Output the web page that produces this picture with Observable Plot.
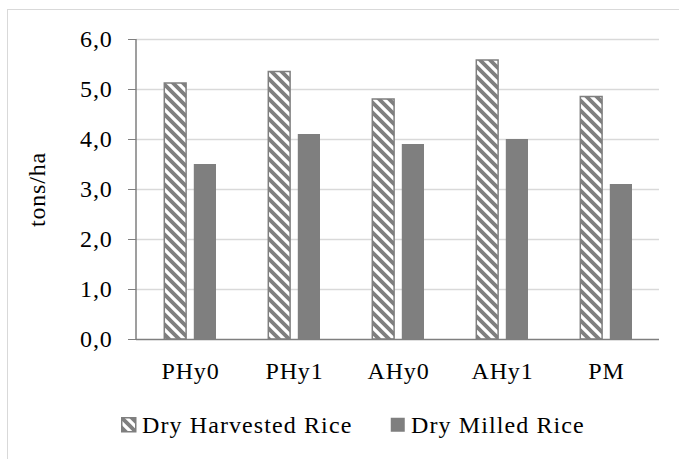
<!DOCTYPE html>
<html><head><meta charset="utf-8">
<script src="https://cdn.jsdelivr.net/npm/d3@7"></script>
<script src="https://cdn.jsdelivr.net/npm/@observablehq/plot@0.6"></script>
<style>
body{margin:0;background:#fff;}
#wrap{position:relative;width:679px;height:459px;overflow:hidden;font-family:"Liberation Serif","Times New Roman",serif;}
#border{position:absolute;left:7px;top:9px;width:800px;height:600px;border:1px solid #d9d9d9;}
#chart{position:absolute;left:0;top:0;}
#chart svg{font-family:"Liberation Serif","Times New Roman",serif;}
#chart svg text{letter-spacing:0.8px;font-family:"Liberation Serif","Times New Roman",serif;}
.legend-item{position:absolute;top:413px;height:24px;display:flex;align-items:center;font-size:24px;line-height:24px;letter-spacing:1.1px;white-space:nowrap;color:#000;}
.legend-item svg{margin-right:5px;}
</style></head><body>
<div id="wrap"><div id="border"></div><div id="chart"></div></div>
<script>
const categories = ["PHy0", "PHy1", "AHy0", "AHy1", "PM"];
const seriesNames = ["Dry Harvested Rice", "Dry Milled Rice"];
const harvested = [5.12, 5.35, 4.80, 5.58, 4.85];
const milled = [3.5, 4.1, 3.9, 4.0, 3.1];
const yTicks = [0, 1, 2, 3, 4, 5, 6];
const yTickLabels = ["0,0", "1,0", "2,0", "3,0", "4,0", "5,0", "6,0"];
const yLabel = "tons/ha";

const data = categories.map((c, i) => ({category: c, harvested: harvested[i], milled: milled[i]}));
const W = 679, H = 400, ML = 136, MR = 20, MT = 39, MB = 61;
const bw = (W - ML - MR) / categories.length;
const gray = "#7f7f7f";
const FS = 24;

const defs = () => {
  const d = d3.create("svg:defs");
  const p = d.append("pattern").attr("id", "hatch").attr("patternUnits", "userSpaceOnUse")
    .attr("width", 10).attr("height", 10);
  p.append("rect").attr("width", 10).attr("height", 10).attr("fill", "#fff");
  p.append("path").attr("d", "M-2,-2L12,12M-2,8L2,12M8,-2L12,2")
    .attr("stroke", gray).attr("stroke-width", 3.8);
  return d.node();
};
const yAxisLine = (index, scales, values, dims) => {
  return d3.create("svg:line")
    .attr("x1", dims.marginLeft).attr("x2", dims.marginLeft)
    .attr("y1", scales.y(yTicks[yTicks.length - 1])).attr("y2", scales.y(0))
    .attr("stroke", gray).attr("stroke-width", 1.5).node();
};

const chart = Plot.plot({
  width: W, height: H, marginLeft: ML, marginRight: MR, marginTop: MT, marginBottom: MB,
  style: {fontSize: FS + "px", background: "none", color: "#000"},
  x: {domain: categories, padding: 0},
  y: {domain: [0, 6]},
  marks: [
    defs,
    Plot.ruleY(yTicks.filter(d => d > 0), {stroke: "#d9d9d9", strokeWidth: 1.3}),
    Plot.barY(data, {x: "category", y: "harvested", fill: "url(#hatch)", stroke: gray, strokeWidth: 1.5,
      insetLeft: bw / 2 - 26, insetRight: bw / 2 + 3.6}),
    Plot.barY(data, {x: "category", y: "milled", fill: gray,
      insetLeft: bw / 2 + 3.5, insetRight: bw / 2 - 26.3}),
    Plot.ruleY([0], {stroke: gray, strokeWidth: 1.5}),
    yAxisLine,
    Plot.axisY({ticks: yTicks, tickSize: 8, tickPadding: 16, fontSize: FS,
      tickFormat: d => yTickLabels[yTicks.indexOf(d)], stroke: gray, fill: "#000", label: null}),
    Plot.axisX({tickSize: 0, tickPadding: 22, fontSize: FS, label: null, fill: "#000"}),
    Plot.text([yLabel], {frameAnchor: "left", textAnchor: "middle", lineAnchor: "middle",
      rotate: -90, dx: -99, fontSize: FS, fill: "#000"})
  ]
});
document.getElementById("chart").appendChild(chart);

// legend
const wrap = document.getElementById("wrap");
const legendLeft = [121, 390];
const legendFill = ["url(#hatch)", gray];
seriesNames.forEach((name, i) => {
  const item = document.createElement("div");
  item.className = "legend-item";
  item.style.left = legendLeft[i] + "px";
  const s = d3.create("svg").attr("width", 16).attr("height", 16);
  s.append("rect").attr("x", 0.75).attr("y", 0.75).attr("width", 14).attr("height", 14)
    .attr("fill", legendFill[i]).attr("stroke", gray).attr("stroke-width", i === 0 ? 1.5 : 0);
  item.appendChild(s.node());
  item.appendChild(document.createTextNode(name));
  wrap.appendChild(item);
});
</script>
</body></html>
